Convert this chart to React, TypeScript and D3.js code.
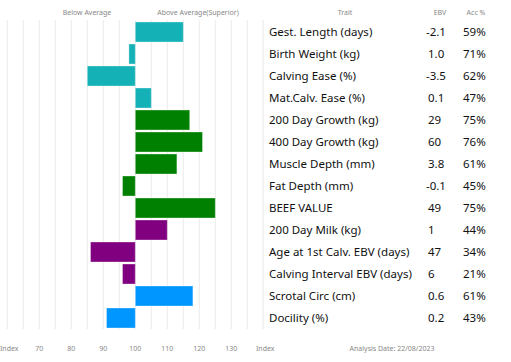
import React from "react";
import * as d3 from "d3";

const traits = [
  "Gest. Length (days)",
  "Birth Weight (kg)",
  "Calving Ease (%)",
  "Mat.Calv. Ease (%)",
  "200 Day Growth (kg)",
  "400 Day Growth (kg)",
  "Muscle Depth (mm)",
  "Fat Depth (mm)",
  "BEEF VALUE",
  "200 Day Milk (kg)",
  "Age at 1st Calv. EBV (days)",
  "Calving Interval EBV (days)",
  "Scrotal Circ (cm)",
  "Docility (%)",
];
const indexValues = [115, 98, 85, 105, 117, 121, 113, 96, 125, 110, 86, 96, 118, 91];
const ebvValues = ["-2.1", "1.0", "-3.5", "0.1", "29", "60", "3.8", "-0.1", "49", "1", "47", "6", "0.6", "0.2"];
const accValues = ["59%", "71%", "62%", "47%", "75%", "76%", "61%", "45%", "75%", "44%", "34%", "21%", "61%", "43%"];
const groups = ["calving", "calving", "calving", "calving", "growth", "growth", "growth", "growth", "growth", "maternal", "maternal", "maternal", "other", "other"];
const tickLabels = [70, 80, 90, 100, 110, 120, 130];

const groupColor: Record<string, string> = {
  calving: "#14B1B7",
  growth: "#008000",
  maternal: "#800080",
  other: "#0096FF",
};

export default function App() {
  const W = 511, H = 362;
  const x = d3.scaleLinear().domain([60, 135]).range([7.3, 247.3]);
  const y = d3.scaleBand<number>().domain(d3.range(traits.length)).range([21, 329]).paddingInner(0.09).paddingOuter(0.045);
  const gridVals = d3.range(60, 136, 5);
  const font = "'Noto Sans', sans-serif";
  return (
    <svg width={W} height={H} style={{ position: "absolute", left: 0, top: 0 }} fontFamily={font}>
      <rect width={W} height={H} fill="#fff" />
      {gridVals.map((v) => (
        <line key={v} x1={x(v)} x2={x(v)} y1={20} y2={329} stroke="#ececec" strokeWidth={1} />
      ))}
      <line x1={263} x2={263} y1={20} y2={329} stroke="#e6e6e6" strokeWidth={1} />
      <text x={87} y={15} fontSize={7} fill="#888" textAnchor="middle">Below Average</text>
      <text x={198} y={15} fontSize={7} fill="#888" textAnchor="middle">Above Average(Superior)</text>
      <text x={345} y={15} fontSize={7} fill="#888" textAnchor="middle">Trait</text>
      <text x={440} y={15} fontSize={7} fill="#888" textAnchor="middle">EBV</text>
      <text x={476} y={15} fontSize={7} fill="#888" textAnchor="middle">Acc %</text>
      {indexValues.map((v, i) => {
        const x0 = Math.min(x(v), x(100));
        const w = Math.abs(x(v) - x(100));
        const yy = y(i)!;
        return (
          <rect key={i} x={x0} y={yy} width={w} height={y.bandwidth()} fill={groupColor[groups[i]]} stroke="#ffffff" strokeOpacity={0.35} strokeWidth={1} />
        );
      })}
      {traits.map((t, i) => {
        const cy = y(i)! + y.bandwidth() / 2;
        return (
          <g key={t} fontSize={11.5} fill="#111">
            <text x={269} y={cy} dy="0.35em">{t}</text>
            <text x={ebvValues[i].startsWith("-") ? 426 : 428} y={cy} dy="0.35em">{ebvValues[i]}</text>
            <text x={463} y={cy} dy="0.35em">{accValues[i]}</text>
          </g>
        );
      })}
      <text x={0} y={351} fontSize={7} fill="#888">Index</text>
      {tickLabels.map((t) => (
        <text key={t} x={x(t)} y={351} fontSize={7} fill="#888" textAnchor="middle">{t}</text>
      ))}
      <text x={256} y={351} fontSize={7} fill="#888">Index</text>
      <text x={392} y={351} fontSize={7} fill="#888" textAnchor="middle">Analysis Date: 22/08/2023</text>
    </svg>
  );
}
